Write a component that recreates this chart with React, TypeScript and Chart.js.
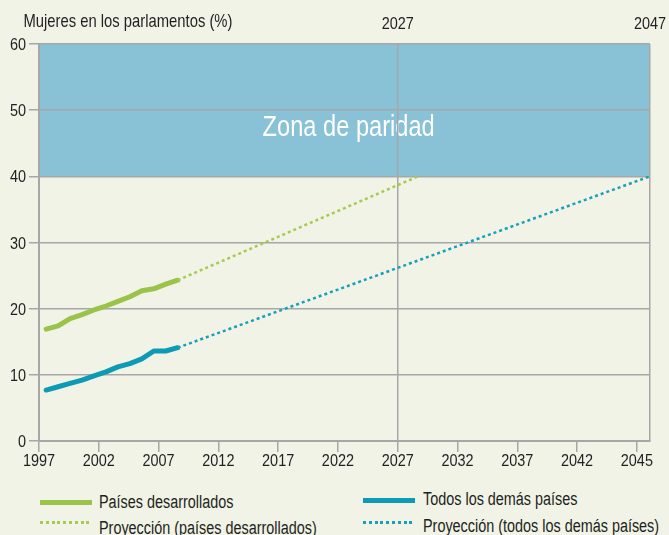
import React, { useEffect, useRef } from "react";
import { Chart, registerables } from "chart.js";

Chart.register(...registerables);

// ---- data ----
const HIST_YEARS = [1997.6, 1998.6, 1999.6, 2000.6, 2001.6, 2002.6, 2003.6, 2004.6, 2005.6, 2006.6, 2007.6, 2008.6];
const DEVELOPED = [16.9, 17.4, 18.5, 19.1, 19.8, 20.4, 21.1, 21.8, 22.7, 23.0, 23.7, 24.3];
const OTHERS = [7.7, 8.2, 8.7, 9.2, 9.85, 10.45, 11.2, 11.7, 12.4, 13.6, 13.6, 14.1];
const PROJ_DEV_YEARS = [2008.6, 2028.7];
const PROJ_DEV = [24.3, 40];
const PROJ_OTH_YEARS = [2008.6, 2048.1];
const PROJ_OTH = [14.1, 40];

const X_MIN = 1997;
const X_MAX = 2048.1;
const Y_MIN = 0;
const Y_MAX = 60;
const Y_STEP = 10;
const BOTTOM_TICK_YEARS = [1997, 2002, 2007, 2012, 2017, 2022, 2027, 2032, 2037, 2042, 2047];
const BOTTOM_TICK_LABELS = ["1997", "2002", "2007", "2012", "2017", "2022", "2027", "2032", "2037", "2042", "2045"];
const TOP_TICK_YEARS = [2027, X_MAX];
const TOP_TICK_LABELS = ["2027", "2047"];
const PARITY_MIN = 40;
const PARITY_MAX = 60;
const PARITY_LABEL = "Zona de paridad";
const PARITY_LABEL_POS = { x: 2022.9, y: 46.1 };
const TITLE = "Mujeres en los parlamentos (%)";

const LEGEND = [
  { label: "Países desarrollados", color: "#9BC34A", dotted: false },
  { label: "Todos los demás países", color: "#0C9AB4", dotted: false },
  { label: "Proyección (países desarrollados)", color: "#A6CA52", dotted: true },
  { label: "Proyección (todos los demás países)", color: "#17A0BA", dotted: true },
];

const FONT = "'Liberation Sans', Arial, sans-serif";
const BG = "#F0F3E6";
const GRID = "#A5A8A6";
const TEXT = "#231F20";
const GREEN = "#9BC34A";
const BLUE = "#0C9AB4";
const GREEN_DOT = "#A6CA52";
const BLUE_DOT = "#17A0BA";
const BAND = "#89C2D6";

const zip = (xs: number[], ys: number[]) => xs.map((x, i) => ({ x, y: ys[i] }));

function narrowText(ctx: any, text: string, x: number, y: number, align: string, size: number, sx: number, color: string) {
  ctx.save();
  ctx.translate(x, y);
  ctx.scale(sx, 1);
  ctx.font = `${size}px ${FONT}`;
  ctx.fillStyle = color;
  ctx.textAlign = align;
  ctx.textBaseline = "alphabetic";
  ctx.fillText(text, 0, 0);
  ctx.restore();
}

const bandPlugin = {
  id: "band",
  beforeDraw(chart: any) {
    const { ctx, chartArea, scales } = chart;
    const y = scales.y;
    const x = scales.x;
    ctx.save();
    const top = y.getPixelForValue(PARITY_MAX);
    const bottom = y.getPixelForValue(PARITY_MIN);
    ctx.fillStyle = BAND;
    ctx.fillRect(chartArea.left, top, chartArea.right - chartArea.left, bottom - top);
    ctx.restore();
    narrowText(ctx, PARITY_LABEL, x.getPixelForValue(PARITY_LABEL_POS.x), y.getPixelForValue(PARITY_LABEL_POS.y), "center", 29, 0.815, "#FFFFFF");
  },
  afterDraw(chart: any) {
    const { ctx, chartArea, scales } = chart;
    const TS = 17;
    const SX = 0.85;
    const cap = TS * 0.716;
    // title
    narrowText(ctx, TITLE, 23.5, 26.7, "left", 18.5, 0.8, TEXT);
    // y labels
    scales.y.ticks.forEach((t: any) => {
      const py = scales.y.getPixelForValue(t.value);
      narrowText(ctx, String(t.value), chartArea.left - 13, py + cap / 2, "right", TS, SX, TEXT);
    });
    // bottom labels
    scales.x.ticks.forEach((t: any, i: number) => {
      const px = scales.x.getPixelForValue(t.value);
      narrowText(ctx, BOTTOM_TICK_LABELS[i], px, chartArea.bottom + 25, "center", TS, SX, TEXT);
    });
    // top labels
    scales.x2.ticks.forEach((t: any, i: number) => {
      const px = scales.x2.getPixelForValue(t.value);
      narrowText(ctx, TOP_TICK_LABELS[i], px, chartArea.top - 14.7, "center", TS, SX, TEXT);
    });
  },
};

export default function App() {
  const ref = useRef<HTMLCanvasElement | null>(null);

  useEffect(() => {
    document.body.style.margin = "0";
    document.body.style.background = BG;
    const canvas = ref.current;
    if (!canvas) return;
    const chart = new Chart(canvas, {
      type: "line",
      data: {
        datasets: [
          {
            label: "Proyección (países desarrollados)",
            data: zip(PROJ_DEV_YEARS, PROJ_DEV),
            borderColor: GREEN_DOT,
            borderWidth: 2.5,
            borderDash: [3, 3],
            pointRadius: 0,
            tension: 0,
          },
          {
            label: "Proyección (todos los demás países)",
            data: zip(PROJ_OTH_YEARS, PROJ_OTH),
            borderColor: BLUE_DOT,
            borderWidth: 2.5,
            borderDash: [3, 3],
            pointRadius: 0,
            tension: 0,
          },
          {
            label: "Países desarrollados",
            data: zip(HIST_YEARS, DEVELOPED),
            borderColor: GREEN,
            borderWidth: 5,
            borderCapStyle: "round",
            borderJoinStyle: "round",
            pointRadius: 0,
            tension: 0,
          },
          {
            label: "Todos los demás países",
            data: zip(HIST_YEARS, OTHERS),
            borderColor: BLUE,
            borderWidth: 5,
            borderCapStyle: "round",
            borderJoinStyle: "round",
            pointRadius: 0,
            tension: 0,
          },
        ] as any,
      },
      options: {
        animation: false,
        responsive: false,
        layout: { padding: { left: 0, right: 19, top: 0, bottom: 0 } },
        plugins: { legend: { display: false }, tooltip: { enabled: false } },
        scales: {
          x: {
            type: "linear",
            position: "bottom",
            min: X_MIN,
            max: X_MAX,
            afterBuildTicks: (axis: any) => {
              axis.ticks = BOTTOM_TICK_YEARS.map((v) => ({ value: v }));
            },
            afterFit: (axis: any) => {
              axis.height = 29;
              axis.paddingLeft = 0;
              axis.paddingRight = 0;
            },
            ticks: { display: false, autoSkip: false },
            grid: { drawOnChartArea: false, tickLength: 11, color: GRID, lineWidth: 1.5 },
            border: { display: true, color: GRID, width: 2 },
          },
          x2: {
            type: "linear",
            position: "top",
            min: X_MIN,
            max: X_MAX,
            afterBuildTicks: (axis: any) => {
              axis.ticks = TOP_TICK_YEARS.map((v) => ({ value: v }));
            },
            afterFit: (axis: any) => {
              axis.height = 44;
              axis.paddingLeft = 0;
              axis.paddingRight = 0;
            },
            ticks: { display: false, autoSkip: false },
            grid: { drawOnChartArea: true, drawTicks: false, color: GRID, lineWidth: 1.5 },
            border: { display: false },
          },
          y: {
            type: "linear",
            min: Y_MIN,
            max: Y_MAX,
            afterFit: (axis: any) => {
              axis.width = 39;
            },
            ticks: { display: false, stepSize: Y_STEP },
            grid: { color: GRID, lineWidth: 1.5, tickLength: 10 },
            border: { display: true, color: GRID, width: 2 },
          },
        },
      } as any,
      plugins: [bandPlugin],
    });
    return () => chart.destroy();
  }, []);

  const legendPos = [
    { left: 40, sampleY: 502, textLeft: 99, textTop: 492.8 },
    { left: 362.5, sampleY: 500.7, textLeft: 422.5, textTop: 489.8 },
    { left: 40, sampleY: 522.7, textLeft: 99, textTop: 519.3 },
    { left: 362.5, sampleY: 522.7, textLeft: 422.5, textTop: 516.8 },
  ];

  return (
    <div style={{ position: "relative", width: 669, height: 535, background: BG, overflow: "hidden", fontFamily: FONT }}>
      <canvas ref={ref} width={669} height={470} style={{ position: "absolute", left: 0, top: 0 }} />
      {LEGEND.map((item, i) => {
        const p = legendPos[i];
        return (
          <React.Fragment key={item.label}>
            <div
              style={{
                position: "absolute",
                left: p.left,
                top: item.dotted ? p.sampleY - 1.25 : p.sampleY - 2.5,
                width: 52,
                height: item.dotted ? 2.5 : 5,
                background: item.dotted
                  ? `repeating-linear-gradient(to right, ${item.color} 0 3px, transparent 3px 5.8px)`
                  : item.color,
              }}
            />
            <div
              style={{
                position: "absolute",
                left: p.textLeft,
                top: p.textTop,
                fontSize: 18,
                lineHeight: "18px",
                color: TEXT,
                whiteSpace: "nowrap",
                transform: "scaleX(0.8)",
                transformOrigin: "0 0",
              }}
            >
              {item.label}
            </div>
          </React.Fragment>
        );
      })}
    </div>
  );
}
